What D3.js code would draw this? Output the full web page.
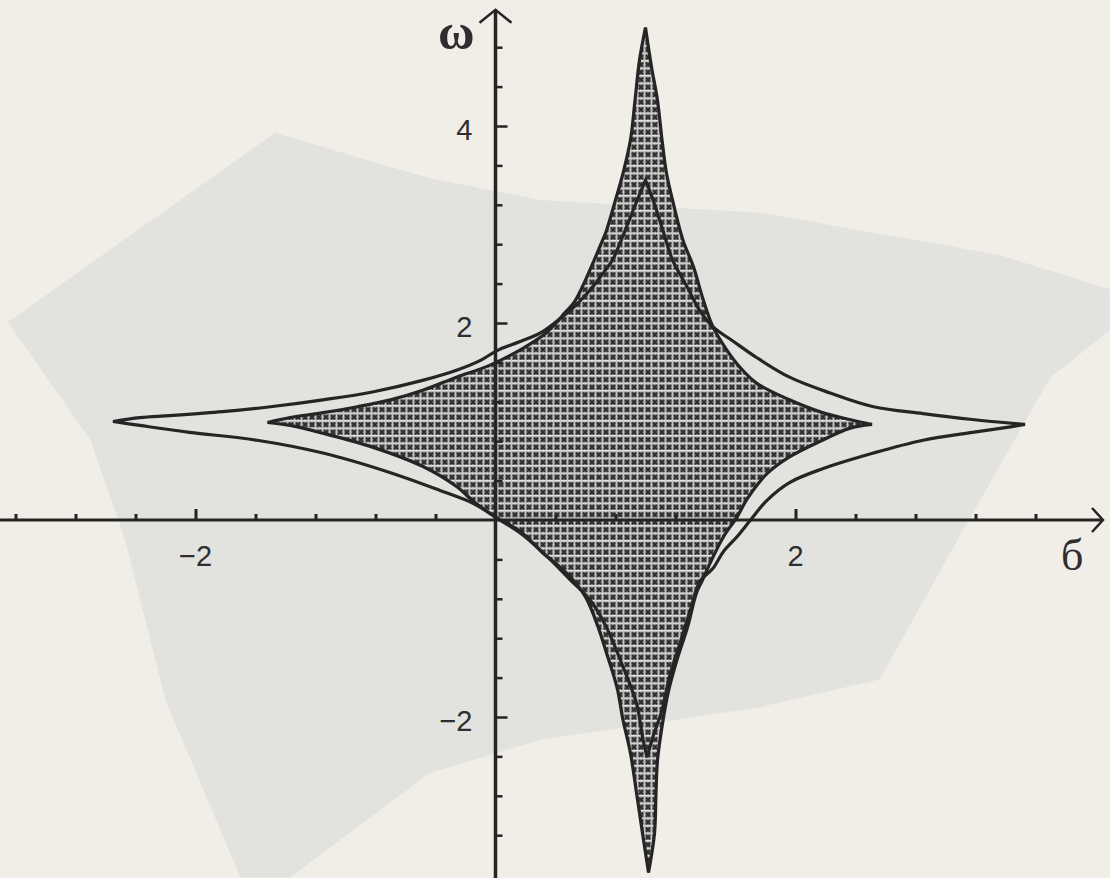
<!DOCTYPE html>
<html>
<head>
<meta charset="utf-8">
<script src="https://cdn.jsdelivr.net/npm/d3@7/dist/d3.min.js"></script>
<style>
html, body { margin: 0; padding: 0; background: #f1ede7; }
svg { display: block; }
</style>
</head>
<body>
<script>
var width = 1110,
    height = 878;

// outer star, outline only (sigma, omega)
var outerStar = [
  [-2.55,1.00],[-2.37,1.04],[-2.17,1.06],[-1.82,1.10],[-1.50,1.15],[-1.15,1.22],[-0.82,1.30],[-0.48,1.42],
  [-0.26,1.52],[-0.10,1.62],[0.01,1.72],[0.16,1.81],[0.30,1.90],[0.41,2.02],[0.52,2.16],[0.61,2.30],
  [0.70,2.47],[0.78,2.64],[0.83,2.81],[0.88,3.00],[0.94,3.23],[1.00,3.45],
  [1.05,3.25],[1.12,2.92],[1.18,2.64],[1.28,2.36],[1.36,2.13],[1.45,1.96],[1.58,1.82],[1.74,1.65],
  [1.96,1.45],[2.23,1.29],[2.52,1.15],[2.85,1.08],[3.18,1.02],[3.53,0.97],
  [3.41,0.94],[3.18,0.89],[2.85,0.81],[2.52,0.68],[2.18,0.52],[1.96,0.38],[1.81,0.20],[1.70,0.00],
  [1.61,-0.17],[1.52,-0.32],[1.45,-0.49],[1.36,-0.63],[1.30,-0.91],[1.23,-1.25],[1.16,-1.59],[1.11,-1.93],
  [1.05,-2.20],[1.01,-2.41],
  [0.98,-2.20],[0.94,-1.86],[0.85,-1.49],[0.74,-1.09],[0.63,-0.81],[0.50,-0.61],[0.35,-0.38],[0.18,-0.15],
  [0.01,0.02],[-0.15,0.17],[-0.37,0.30],[-0.70,0.48],[-1.15,0.68],[-1.59,0.81],[-2.04,0.89],[-2.37,0.96]
];

// inner star, the hatched one
var innerStar = [
  [-1.52,0.99],[-1.37,1.04],[-1.15,1.09],[-0.92,1.15],[-0.70,1.22],[-0.48,1.32],[-0.26,1.45],[-0.04,1.57],
  [0.18,1.74],[0.33,1.89],[0.41,2.01],[0.46,2.10],[0.52,2.20],[0.58,2.37],[0.65,2.61],[0.70,2.79],
  [0.74,2.94],[0.80,3.25],[0.85,3.52],[0.90,3.86],[0.93,4.26],[0.96,4.67],[1.00,5.00],
  [1.04,4.60],[1.08,4.26],[1.11,3.86],[1.14,3.52],[1.18,3.25],[1.25,2.84],[1.32,2.57],[1.38,2.26],
  [1.45,1.96],[1.54,1.73],[1.63,1.55],[1.74,1.39],[1.96,1.22],[2.18,1.09],[2.36,1.02],[2.51,0.97],
  [2.36,0.93],[2.18,0.81],[1.96,0.64],[1.81,0.47],[1.68,0.22],[1.61,0.03],[1.52,-0.17],[1.43,-0.44],
  [1.38,-0.61],[1.34,-0.74],[1.28,-1.09],[1.21,-1.42],[1.15,-1.76],[1.11,-2.10],[1.08,-2.44],[1.07,-2.77],
  [1.06,-3.18],[1.02,-3.58],
  [0.98,-3.18],[0.94,-2.77],[0.90,-2.37],[0.85,-2.03],[0.81,-1.70],[0.74,-1.35],[0.68,-1.07],[0.60,-0.78],
  [0.50,-0.58],[0.41,-0.45],[0.32,-0.34],[0.16,-0.11],[0.01,0.02],[-0.14,0.18],[-0.26,0.34],[-0.48,0.54],
  [-0.82,0.74],[-1.15,0.88],[-1.37,0.96]
];

// ticks every 0.4, labels on the big ones
var xTicks = [-3.2,-2.8,-2.4,-2,-1.6,-1.2,-0.8,-0.4,0.4,0.8,1.2,1.6,2,2.4,2.8,3.2,3.6];
var yTicks = [-3.2,-2.8,-2.4,-2,-1.6,-1.2,-0.8,-0.4,0.4,0.8,1.2,1.6,2,2.4,2.8,3.2,3.6,4,4.4,4.8];
var xLabels = [-2, 2];
var yLabels = [-2, 2, 4];
var xName = "б";
var yName = "ω";

// grey show-through from the other side of the scanned page
var paperShade = [
  [-3.25,2.01],[-1.47,3.93],[-0.44,3.47],[0.30,3.25],[1.76,3.12],[3.36,2.69],[4.10,2.34],[4.10,1.93],
  [3.70,1.45],[3.08,-0.20],[2.56,-1.62],[1.76,-1.90],[0.30,-2.23],[-0.44,-2.57],[-1.37,-3.63],
  [-1.70,-3.63],[-2.20,-1.83],[-2.47,-0.20],[-2.70,0.81]
];

var x = d3.scaleLinear().domain([-3.2, 4.0]).range([15.5, 1095.5]);
var y = d3.scaleLinear().domain([-3.6, 5.2]).range([874.6, 7.8]);

var ink = "#252525";

var svg = d3.select("body").append("svg")
    .attr("width", width)
    .attr("height", height);

// hatch pattern of little crosses
var defs = svg.append("defs");
var pat = defs.append("pattern")
    .attr("id", "hatch")
    .attr("patternUnits", "userSpaceOnUse")
    .attr("width", 7)
    .attr("height", 7.5);
pat.append("rect").attr("width", 7).attr("height", 7.5).attr("fill", "#8e8e8e");
pat.append("rect").attr("width", 7).attr("height", 1.5).attr("fill", "#e4e4e2");
pat.append("rect").attr("width", 1).attr("height", 7.5).attr("fill", "#c4c4c2");
pat.append("path")
    .attr("d", "M2,2.6 L6,6.8 M6,2.6 L2,6.8")
    .attr("stroke", "#2a2a2a")
    .attr("stroke-width", 1.8);

svg.append("rect")
    .attr("width", width)
    .attr("height", height)
    .attr("fill", "#f1ede7");

var pt = function (d) { return [x(d[0]), y(d[1])]; };

// split a closed star at its four cusps and smooth each arc separately,
// so the cusps stay sharp
function starPath(pts) {
    var iL = d3.minIndex(pts, function (d) { return d[0]; }),
        iT = d3.maxIndex(pts, function (d) { return d[1]; }),
        iR = d3.maxIndex(pts, function (d) { return d[0]; }),
        iB = d3.minIndex(pts, function (d) { return d[1]; });
    var cuts = [iL, iT, iR, iB].sort(d3.ascending);
    var arc = d3.line().curve(d3.curveCatmullRom.alpha(0.5));
    var out = "";
    cuts.forEach(function (c, k) {
        var next = cuts[(k + 1) % 4];
        var seg = [];
        var i = c;
        while (true) {
            seg.push(pt(pts[i]));
            if (i === next) break;
            i = (i + 1) % pts.length;
        }
        var d = arc(seg);
        out += k === 0 ? d : "L" + d.slice(1);
    });
    return out + "Z";
}

var flat = d3.line()
    .x(function (d) { return x(d[0]); })
    .y(function (d) { return y(d[1]); })
    .curve(d3.curveLinearClosed);

svg.append("path")
    .attr("d", flat(paperShade))
    .attr("fill", "#e2e2df");

// hatched area
svg.append("path")
    .attr("d", starPath(innerStar))
    .attr("fill", "url(#hatch)")
    .attr("stroke", "none");

// axes
var x0 = x(0), y0 = y(0);
svg.append("line")
    .attr("x1", 0).attr("x2", x(4.05))
    .attr("y1", y0).attr("y2", y0)
    .attr("stroke", ink).attr("stroke-width", 3);
svg.append("line")
    .attr("x1", x0).attr("x2", x0)
    .attr("y1", height).attr("y2", y(5.18))
    .attr("stroke", ink).attr("stroke-width", 3.5);

// arrow heads
svg.append("path")
    .attr("d", "M" + (x(4.05) - 11) + "," + (y0 - 12) + " L" + x(4.05) + "," + y0 + " L" + (x(4.05) - 11) + "," + (y0 + 12))
    .attr("fill", "none").attr("stroke", ink).attr("stroke-width", 2.5);
svg.append("path")
    .attr("d", "M" + (x0 - 16) + "," + (y(5.18) + 13) + " L" + x0 + "," + y(5.18) + " L" + (x0 + 16) + "," + (y(5.18) + 13))
    .attr("fill", "none").attr("stroke", ink).attr("stroke-width", 2.5);

var gx = svg.append("g")
    .attr("transform", "translate(0," + y0 + ")")
    .call(d3.axisTop(x).tickValues(xTicks).tickSize(6).tickFormat(""));
gx.select(".domain").remove();
gx.selectAll(".tick line")
    .attr("y2", function (d) { return xLabels.indexOf(d) >= 0 ? -11 : -6; })
    .attr("stroke", ink)
    .attr("stroke-width", 3);

var gy = svg.append("g")
    .attr("transform", "translate(" + x0 + ",0)")
    .call(d3.axisRight(y).tickValues(yTicks).tickSize(7).tickFormat(""));
gy.select(".domain").remove();
gy.selectAll(".tick line")
    .attr("x2", function (d) { return yLabels.indexOf(d) >= 0 ? 12 : 7; })
    .attr("stroke", ink)
    .attr("stroke-width", 2.5);

// curves
svg.append("path")
    .attr("d", starPath(innerStar))
    .attr("fill", "none")
    .attr("stroke", ink)
    .attr("stroke-width", 3.2)
    .attr("stroke-linejoin", "miter")
    .attr("stroke-miterlimit", 3);
svg.append("path")
    .attr("d", starPath(outerStar))
    .attr("fill", "none")
    .attr("stroke", ink)
    .attr("stroke-width", 3.2)
    .attr("stroke-linejoin", "miter")
    .attr("stroke-miterlimit", 3);

// labels
var fmt = function (d) { return d < 0 ? "\u2212" + Math.abs(d) : "" + d; };
svg.selectAll(".xlab").data(xLabels).enter().append("text")
    .attr("class", "xlab")
    .attr("x", function (d) { return x(d); })
    .attr("y", y0 + 46)
    .attr("text-anchor", "middle")
    .style("font-family", "'Liberation Sans', Arial, sans-serif")
    .style("font-size", "29px")
    .style("fill", "#2e2e2e")
    .text(fmt);
svg.selectAll(".ylab").data(yLabels).enter().append("text")
    .attr("class", "ylab")
    .attr("x", x0 - 23)
    .attr("y", function (d) { return y(d) + 14; })
    .attr("text-anchor", "end")
    .style("font-family", "'Liberation Sans', Arial, sans-serif")
    .style("font-size", "29px")
    .style("fill", "#2e2e2e")
    .text(fmt);

svg.append("text")
    .attr("x", 1061)
    .attr("y", y0 + 50)
    .style("font-family", "'Liberation Serif', 'DejaVu Serif', serif")
    .style("font-size", "44px")
    .style("fill", "#2e2e2e")
    .text(xName);
svg.append("text")
    .attr("x", x0 - 21)
    .attr("y", 49)
    .attr("text-anchor", "end")
    .style("font-family", "'Liberation Serif', 'DejaVu Serif', serif")
    .style("font-size", "50px")
    .style("font-weight", "bold")
    .style("fill", "#2e2e2e")
    .text(yName);
</script>
</body>
</html>
